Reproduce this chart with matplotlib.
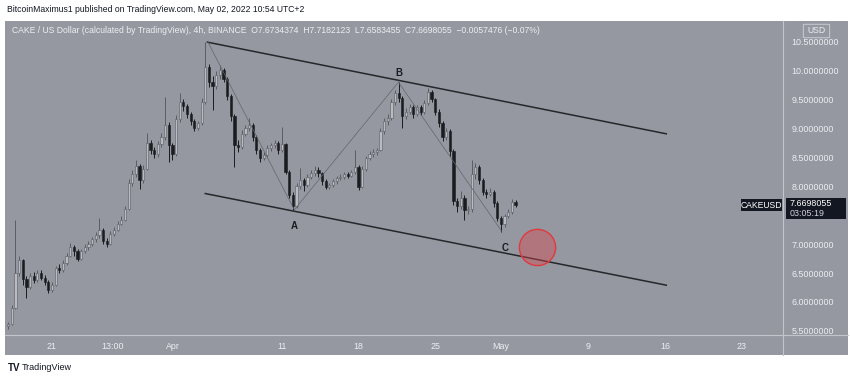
import numpy as np
import matplotlib
matplotlib.use("Agg")
import matplotlib.pyplot as plt
from matplotlib.patches import Rectangle, FancyBboxPatch

W, H = 850, 380

# CAKE/USD candles (one every 8h), day 0 = Mar 21
first_open = 5.58
closes = [5.62, 5.90, 6.50, 6.72, 6.40, 6.25, 6.45, 6.38, 6.50, 6.42,
          6.35, 6.20, 6.30, 6.58, 6.55, 6.68, 6.80, 6.95, 6.88, 6.75,
          6.88, 6.95, 7.00, 7.08, 7.15, 7.25, 7.05, 7.00, 7.18, 7.25,
          7.35, 7.42, 7.60, 8.05, 8.20, 8.35, 8.10, 8.30, 8.75, 8.62,
          8.55, 8.72, 8.85, 9.05, 8.70, 8.55, 9.15, 9.45, 9.38, 9.25,
          9.12, 9.00, 9.08, 9.45, 10.05, 9.80, 9.72, 9.92, 10.00, 9.85,
          9.55, 9.20, 8.70, 8.68, 8.90, 9.00, 9.05, 8.85, 8.62, 8.48,
          8.53, 8.65, 8.70, 8.74, 8.62, 8.72, 8.25, 7.85, 7.65, 8.00,
          8.10, 8.02, 8.16, 8.22, 8.28, 8.22, 8.08, 7.98, 8.02, 8.08,
          8.14, 8.16, 8.20, 8.18, 8.24, 8.33, 7.98, 8.30, 8.48, 8.55,
          8.58, 8.62, 8.95, 9.12, 9.18, 9.45, 9.60, 9.52, 9.20, 9.28,
          9.36, 9.24, 9.36, 9.28, 9.43, 9.62, 9.50, 9.28, 9.08, 8.84,
          8.95, 8.60, 7.75, 7.65, 7.80, 7.58, 7.60, 8.20, 8.32, 8.10,
          7.90, 7.86, 7.90, 7.70, 7.45, 7.35, 7.48, 7.56, 7.72, 7.67]
highs = [5.66, 5.95, 7.41, 6.80, 6.75, 6.45, 6.50, 6.52, 6.56, 6.55,
         6.46, 6.38, 6.34, 6.62, 6.66, 6.72, 6.84, 7.02, 6.98, 6.92,
         6.92, 7.00, 7.05, 7.12, 7.20, 7.45, 7.28, 7.10, 7.22, 7.30,
         7.40, 7.48, 7.65, 8.12, 8.28, 8.45, 8.38, 8.36, 8.91, 8.80,
         8.68, 8.78, 8.92, 9.53, 9.10, 8.74, 9.22, 9.60, 9.50, 9.42,
         9.28, 9.16, 9.12, 9.52, 10.48, 10.10, 9.90, 9.98, 10.08, 10.04,
         9.88, 9.58, 9.24, 8.80, 8.96, 9.06, 9.17, 9.08, 8.88, 8.66,
         8.58, 8.70, 8.75, 8.80, 8.78, 9.02, 8.75, 8.28, 7.90, 8.05,
         8.31, 8.14, 8.20, 8.27, 8.35, 8.32, 8.25, 8.12, 8.06, 8.12,
         8.18, 8.20, 8.24, 8.24, 8.28, 8.62, 8.36, 8.34, 8.52, 8.60,
         8.63, 8.66, 9.00, 9.18, 9.25, 9.50, 9.66, 9.79, 9.55, 9.34,
         9.42, 9.40, 9.40, 9.40, 9.48, 9.69, 9.66, 9.52, 9.32, 9.12,
         9.00, 8.98, 8.64, 7.80, 7.92, 7.84, 7.66, 8.45, 8.40, 8.36,
         8.14, 7.94, 7.96, 7.93, 7.74, 7.48, 7.52, 7.60, 7.78, 7.76]
lows = [5.53, 5.60, 5.88, 6.45, 6.30, 6.07, 6.22, 6.33, 6.35, 6.38,
        6.30, 6.15, 6.17, 6.28, 6.50, 6.52, 6.64, 6.78, 6.80, 6.70,
        6.72, 6.84, 6.90, 6.96, 7.04, 7.10, 7.00, 6.95, 6.98, 7.14,
        7.22, 7.32, 7.40, 7.58, 8.00, 8.15, 7.95, 8.06, 8.28, 8.55,
        8.48, 8.50, 8.68, 8.80, 8.41, 8.45, 8.52, 9.10, 9.30, 9.18,
        9.05, 8.95, 8.96, 9.05, 9.42, 9.70, 9.31, 9.68, 9.85, 9.80,
        9.48, 9.12, 8.33, 8.58, 8.64, 8.86, 8.95, 8.78, 8.55, 8.42,
        8.44, 8.50, 8.60, 8.66, 8.56, 8.58, 8.20, 7.80, 7.59, 7.62,
        7.95, 7.92, 7.98, 8.12, 8.18, 8.16, 8.02, 7.94, 7.95, 7.99,
        8.04, 8.10, 8.12, 8.13, 8.15, 8.20, 7.93, 7.96, 8.26, 8.44,
        8.50, 8.54, 8.60, 8.90, 9.06, 9.14, 9.40, 9.45, 9.00, 9.15,
        9.24, 9.18, 9.20, 9.22, 9.25, 9.40, 9.44, 9.22, 9.02, 8.78,
        8.80, 8.52, 7.68, 7.55, 7.60, 7.41, 7.52, 7.56, 8.12, 8.04,
        7.84, 7.80, 7.82, 7.64, 7.40, 7.21, 7.30, 7.44, 7.52, 7.64]
start_day = -4.0
candle_step = 1 / 3

# drawings
upper_d, upper_p = [14.2, 56.1], [10.48, 8.90]
lower_d, lower_p = [14.0, 56.1], [7.87, 6.29]
wave_d = [14.25, 22.13, 31.64, 41.07]
wave_p = [10.48, 7.59, 9.79, 7.22]
wave_labels = ["A", "B", "C"]
target_d, target_p = 44.26, 6.94

shown_price_ticks = [5.5, 6.0, 6.5, 7.0, 8.0, 8.5, 9.0, 9.5, 10.0, 10.5]
time_ticks = [0, 5.54, 11, 21, 28, 35, 41, 49, 56, 63]
time_labels = ["21", "13:00", "Apr", "11", "18", "25", "May", "9", "16", "23"]
last_price = 7.6698055

BG = "#9598a1"
TXT = "#eceef1"
DARK = "#131722"


def fx(x):
    return x / W


def fy(y):
    return 1 - y / H


plt.rcParams["font.family"] = ["Liberation Sans", "DejaVu Sans"]
fig = plt.figure(figsize=(W / 100, H / 100), dpi=100)
fig.patch.set_facecolor("white")

# grey panel behind the plot and both scales
fig.patches.append(Rectangle((fx(5), fy(355)), fx(843), (355 - 21) / H,
                             transform=fig.transFigure, facecolor=BG, edgecolor="none", zorder=-10))

ax = fig.add_axes([fx(5), fy(335), fx(778), (335 - 21) / H])
ax.set_facecolor(BG)
for s in ax.spines.values():
    s.set_visible(False)

opens = [first_open] + closes[:-1]
days = start_day + candle_step * np.arange(len(closes))
up = np.array(closes) >= np.array(opens)
body_col = np.where(up, "#b9bbc1", "#1b1c20")
wick_col = np.where(up, "#5a5d64", "#1b1c20")
ax.vlines(days, lows, highs, colors=wick_col, linewidth=0.7, zorder=2)
ax.bar(days, np.array(closes) - np.array(opens), bottom=opens, width=0.2,
       color=body_col, edgecolor=wick_col, linewidth=0.4, zorder=3)

ax.plot(upper_d, upper_p, color="#26272b", lw=1.1, zorder=4)
ax.plot(lower_d, lower_p, color="#26272b", lw=1.1, zorder=4)
ax.plot(wave_d, wave_p, color="#62656c", lw=0.5, zorder=4)
ax.text(wave_d[1], wave_p[1] - 0.2, wave_labels[0], ha="center", va="top", fontsize=7,
        fontweight="bold", color="#1b1c20")
ax.text(wave_d[2], wave_p[2] + 0.08, wave_labels[1], ha="center", va="bottom", fontsize=7,
        fontweight="bold", color="#1b1c20")
ax.text(wave_d[3] + 0.3, wave_p[3] - 0.2, wave_labels[2], ha="center", va="top", fontsize=7,
        fontweight="bold", color="#1b1c20")
ax.scatter([target_d], [target_p], s=680, facecolor=(0.85, 0.28, 0.30, 0.42),
           edgecolor="#e0393d", linewidth=1.0, zorder=5)

ax.set_xlim(-4.29, 66.76)
ax.set_ylim(5.431, 10.845)
ax.set_xticks(time_ticks)
ax.set_xticklabels(time_labels)
ax.set_yticks(shown_price_ticks)
ax.set_yticklabels([f"{p:.7f}" for p in shown_price_ticks])
ax.yaxis.tick_right()
ax.tick_params(axis="both", length=0, labelsize=6.4, labelcolor=TXT)
ax.tick_params(axis="y", pad=6)
ax.tick_params(axis="x", pad=5)

# separators of the price / time scales
fig.add_artist(plt.Line2D([fx(5), fx(848)], [fy(335), fy(335)], color="#c3c5cb", lw=0.8))
fig.add_artist(plt.Line2D([fx(783), fx(783)], [fy(21), fy(355)], color="#c3c5cb", lw=0.8))

# last price tags
fig.patches.append(Rectangle((fx(786), fy(219)), fx(60), 21 / H, transform=fig.transFigure,
                             facecolor=DARK, edgecolor="none", zorder=5))
fig.text(fx(790), fy(204), f"{last_price:.7f}", fontsize=6.4, color="white", va="center", zorder=6)
fig.text(fx(790), fy(213.5), "03:05:19", fontsize=6.4, color="#d1d4dc", va="center", zorder=6)
fig.patches.append(Rectangle((fx(741), fy(211)), fx(41), 12 / H, transform=fig.transFigure,
                             facecolor=DARK, edgecolor="none", zorder=5))
fig.text(fx(761.5), fy(205), "CAKEUSD", fontsize=6.2, color="white", ha="center", va="center", zorder=6)

fig.patches.append(FancyBboxPatch((fx(805), fy(37)), fx(23), 12 / H, boxstyle="round,pad=0.002",
                                  transform=fig.transFigure, facecolor=BG, edgecolor="#d1d4dc",
                                  lw=0.6, zorder=5))
fig.text(fx(816.5), fy(30.5), "USD", fontsize=6.2, color=TXT, ha="center", va="center", zorder=6)

# headers
fig.text(fx(7), fy(10), "BitcoinMaximus1 published on TradingView.com, May 02, 2022 10:54 UTC+2",
         fontsize=6.2, color="#131722", va="center")
fig.text(fx(12), fy(30.5),
         "CAKE / US Dollar (calculated by TradingView), 4h, BINANCE  O7.6734374  H7.7182123  "
         "L7.6583455  C7.6698055  \u22120.0057476 (\u22120.07%)",
         fontsize=6.2, color=TXT, va="center")

# footer
fig.text(fx(8), fy(368), "TV", fontsize=7, fontweight="bold", color="#131722", va="center")
fig.text(fx(22), fy(368), "TradingView", fontsize=6.5, color="#131722", va="center")

fig.savefig("out.png", dpi=100)
